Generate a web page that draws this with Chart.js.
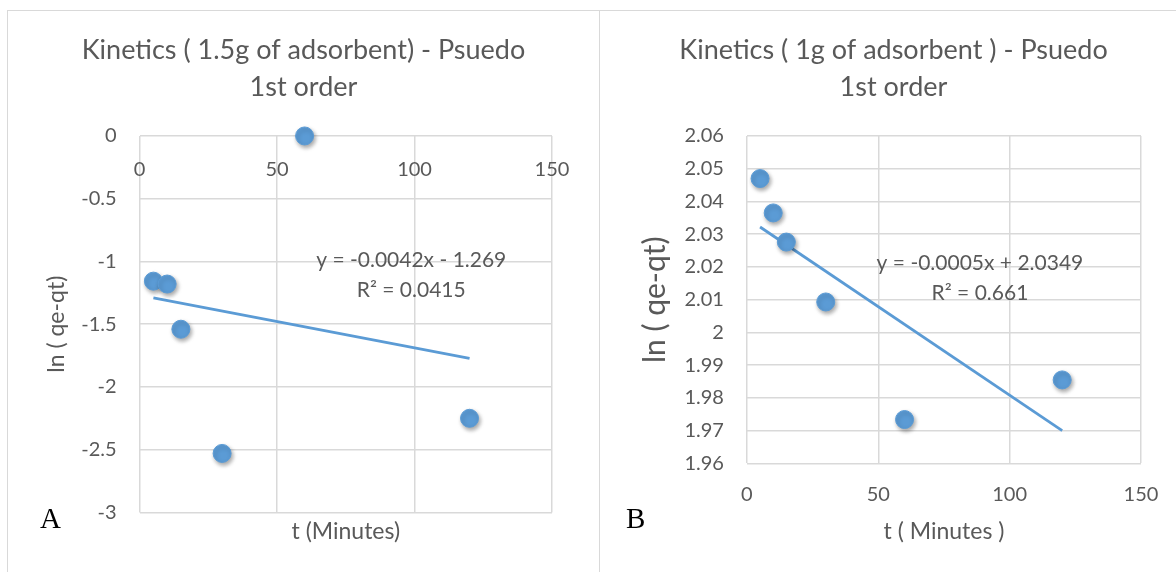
<!DOCTYPE html>
<html>
<head>
<meta charset="utf-8">
<title>Kinetics - Psuedo 1st order</title>
<script src="https://cdn.jsdelivr.net/npm/chart.js@4.4.0/dist/chart.umd.min.js"></script>
<style>
  body { margin: 0; width: 1176px; height: 572px; overflow: hidden; background: #fff; position: relative; }
  .box { position: absolute; border-left: 1.5px solid #d9d9d9; border-top: 1.5px solid #d9d9d9; }
  #boxA { left: 7px; top: 10px; width: 592px; height: 580px; }
  #boxB { left: 599px; top: 10px; width: 600px; height: 580px; }
  canvas { position: absolute; }
  #chartA { left: 8px; top: 12px; }
  #chartB { left: 601px; top: 12px; }
  .tag { position: absolute; font-family: "Liberation Serif", "DejaVu Serif", serif; font-size: 29px; color: #000; line-height: 1; }
</style>
</head>
<body>
<div class="box" id="boxA"></div>
<div class="box" id="boxB"></div>
<canvas id="chartA" width="590" height="556"></canvas>
<canvas id="chartB" width="586" height="556"></canvas>
<div class="tag" style="left:40px; top:504px;">A</div>
<div class="tag" style="left:626px; top:504px;">B</div>

<script>
// --- Data ---
const xTicks = [0, 50, 100, 150];

// A: 1.5 g of adsorbent
const timeA = [5, 10, 15, 30, 60, 120];
const lnA = [-1.157, -1.18, -1.54, -2.53, 0, -2.25];
const trendTimeA = [5, 120];
const trendLnA = [-1.29, -1.773];
const yTicksA = [0, -0.5, -1, -1.5, -2, -2.5, -3];
const eqA = ['y = -0.0042x - 1.269', 'R² = 0.0415'];

// B: 1 g of adsorbent
const timeB = [5, 10, 15, 30, 60, 120];
const lnB = [2.047, 2.0365, 2.0276, 2.0093, 1.9734, 1.9855];
const trendTimeB = [5, 120];
const trendLnB = [2.0322, 1.970];
const yTicksB = [2.06, 2.05, 2.04, 2.03, 2.02, 2.01, 2, 1.99, 1.98, 1.97, 1.96];
const eqB = ['y = -0.0005x + 2.0349', 'R² = 0.661'];

// --- Styles ---
const blue = '#5b9bd5';
const textGray = '#595959';
const gridGray = '#d9d9d9';

Chart.defaults.font.family = 'Lato, "Open Sans", sans-serif';
Chart.defaults.color = textGray;

const toPoints = (xs, ys) => xs.map((x, i) => ({ x: x, y: ys[i] }));
const fmt = v => String(+Number(v).toFixed(3));
const useTicks = arr => scale => { scale.ticks = arr.map(v => ({ value: v })); };

// soft drop shadow under the markers, like Excel
const markerShadow = {
    id: 'markerShadow',
    beforeDatasetDraw(chart, args) {
        if (args.index !== 0) return;
        const ctx = chart.ctx;
        ctx.save();
        ctx.shadowColor = 'rgba(0,0,0,0.35)';
        ctx.shadowBlur = 4;
        ctx.shadowOffsetX = 1.5;
        ctx.shadowOffsetY = 2.5;
    },
    afterDatasetDraw(chart, args) {
        if (args.index === 0) chart.ctx.restore();
    }
};

// trendline equation, anchored in data coordinates
const trendLabel = {
    id: 'trendLabel',
    afterDatasetsDraw(chart, args, opts) {
        const { ctx, scales } = chart;
        ctx.save();
        ctx.font = '21px Lato, "Open Sans", sans-serif';
        ctx.fillStyle = textGray;
        ctx.textAlign = 'center';
        ctx.textBaseline = 'middle';
        opts.lines.forEach((t, i) => {
            ctx.fillText(t, scales.x.getPixelForValue(opts.at[i][0]), scales.y.getPixelForValue(opts.at[i][1]));
        });
        ctx.restore();
    }
};

function datasets(xs, ys, tx, ty) {
    return [
        {
            data: toPoints(xs, ys),
            backgroundColor: blue,
            borderColor: blue,
            borderWidth: 1,
            pointRadius: 9,
            pointHoverRadius: 9,
            clip: false
        },
        {
            type: 'line',
            data: toPoints(tx, ty),
            borderColor: blue,
            borderWidth: 2.75,
            pointRadius: 0,
            fill: false
        }
    ];
}

const titleOpts = lines => ({
    display: true,
    text: lines,
    color: textGray,
    font: { size: 27, weight: 'normal', lineHeight: 1.37 },
    padding: { top: 20, bottom: 30 }
});

const gridOpts = { color: gridGray, lineWidth: 1.5, drawTicks: false };
const tickFont = { size: 20 };

// --- Chart A ---
new Chart(document.getElementById('chartA'), {
    type: 'scatter',
    data: { datasets: datasets(timeA, lnA, trendTimeA, trendLnA) },
    options: {
        responsive: false,
        animation: false,
        events: [],
        layout: { padding: { left: 47, right: 46, top: 0, bottom: 0 } },
        plugins: {
            legend: { display: false },
            tooltip: { enabled: false },
            title: titleOpts(['Kinetics ( 1.5g of adsorbent) - Psuedo', '1st order']),
            trendLabel: { lines: eqA, at: [[98.8, -0.99], [98.8, -1.229]] }
        },
        scales: {
            x: {
                type: 'linear',
                position: { y: 0 },
                min: 0, max: 150,
                afterBuildTicks: useTicks(xTicks),
                grid: gridOpts,
                border: { display: false },
                ticks: { font: tickFont, padding: 22, callback: fmt }
            },
            xt: {
                type: 'linear',
                axis: 'x',
                position: 'bottom',
                min: 0, max: 150,
                grid: { display: false, drawTicks: false },
                border: { display: false },
                ticks: { display: false },
                title: { display: true, text: 't (Minutes)', font: { size: 23 }, padding: { top: 5, bottom: 23 } }
            },
            y: {
                min: -3, max: 0,
                afterBuildTicks: useTicks(yTicksA),
                grid: gridOpts,
                border: { display: false },
                ticks: { font: tickFont, padding: 23, callback: fmt },
                title: { display: true, text: 'ln ( qe-qt)', font: { size: 23 }, padding: { top: -11.8, bottom: -12.5 } }
            }
        }
    },
    plugins: [markerShadow, trendLabel]
});

// --- Chart B ---
new Chart(document.getElementById('chartB'), {
    type: 'scatter',
    data: { datasets: datasets(timeB, lnB, trendTimeB, trendLnB) },
    options: {
        responsive: false,
        animation: false,
        events: [],
        layout: { padding: { left: 45, right: 46, top: 0, bottom: 0 } },
        plugins: {
            legend: { display: false },
            tooltip: { enabled: false },
            title: titleOpts(['Kinetics ( 1g of adsorbent ) - Psuedo', '1st order']),
            trendLabel: { lines: eqB, at: [[88.7, 2.021], [88.7, 2.0121]] }
        },
        scales: {
            x: {
                type: 'linear',
                position: 'bottom',
                min: 0, max: 150,
                afterBuildTicks: useTicks(xTicks),
                grid: gridOpts,
                border: { display: false },
                ticks: { font: tickFont, padding: 19, callback: fmt },
                title: { display: true, text: 't ( Minutes )', font: { size: 23 }, padding: { top: -8, bottom: 23 } }
            },
            y: {
                min: 1.96, max: 2.06,
                afterBuildTicks: useTicks(yTicksB),
                grid: gridOpts,
                border: { display: false },
                ticks: { font: tickFont, padding: 23, callback: fmt },
                title: { display: true, text: 'ln ( qe-qt)', font: { size: 30 }, padding: { top: -9, bottom: -11.6 } }
            }
        }
    },
    plugins: [markerShadow, trendLabel]
});
</script>
</body>
</html>
